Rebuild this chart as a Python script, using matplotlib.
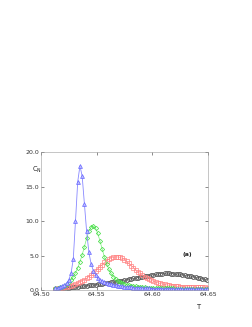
import numpy as np
import matplotlib
matplotlib.use('Agg')
import matplotlib.pyplot as plt

# temperature grid
T = np.round(64.513 + 0.002 * np.arange(69), 3)

blue = [0.3, 0.35, 0.45, 0.55, 0.75, 1.0, 1.5, 2.4, 4.5, 10.0,
        15.7, 18.0, 16.5, 12.5, 8.5, 5.5, 3.8, 2.8, 2.2, 1.8,
        1.5, 1.3, 1.15, 1.0, 0.9, 0.82, 0.75, 0.68, 0.62, 0.57,
        0.52, 0.48, 0.44, 0.41, 0.38, 0.35, 0.33, 0.31, 0.29, 0.27,
        0.26, 0.24, 0.23, 0.22, 0.21, 0.2, 0.19, 0.18, 0.17, 0.165,
        0.16, 0.15, 0.145, 0.14, 0.135, 0.13, 0.125, 0.12, 0.115, 0.11,
        0.108, 0.105, 0.1, 0.098, 0.095, 0.092, 0.09, 0.088, 0.085]

green = [0.25, 0.3, 0.4, 0.5, 0.65, 0.85, 1.1, 1.45, 1.9, 2.5,
         3.2, 4.1, 5.1, 6.3, 7.5, 8.5, 9.1, 9.3, 9.0, 8.2,
         7.1, 5.9, 4.8, 3.8, 3.0, 2.4, 1.95, 1.6, 1.35, 1.15,
         1.0, 0.88, 0.78, 0.7, 0.63, 0.57, 0.52, 0.48, 0.44, 0.41,
         0.38, 0.36, 0.34, 0.32, 0.3, 0.29, 0.28, 0.27, 0.26, 0.25,
         0.24, 0.235, 0.23, 0.225, 0.22, 0.215, 0.21, 0.205, 0.2, 0.2,
         0.195, 0.19, 0.19, 0.185, 0.185, 0.18, 0.18, 0.18, 0.175]

red = [0.2, 0.25, 0.3, 0.35, 0.4, 0.48, 0.56, 0.65, 0.75, 0.86,
       1.0, 1.15, 1.3, 1.5, 1.7, 1.95, 2.2, 2.5, 2.8, 3.1,
       3.4, 3.7, 4.0, 4.25, 4.5, 4.65, 4.75, 4.8, 4.8, 4.75,
       4.6, 4.4, 4.15, 3.85, 3.55, 3.25, 2.95, 2.65, 2.4, 2.15,
       1.95, 1.75, 1.58, 1.42, 1.28, 1.16, 1.05, 0.96, 0.88, 0.81,
       0.75, 0.7, 0.65, 0.61, 0.57, 0.54, 0.51, 0.49, 0.47, 0.45,
       0.43, 0.42, 0.41, 0.4, 0.39, 0.38, 0.37, 0.37, 0.36]

black = [0.15, 0.18, 0.22, 0.26, 0.3, 0.33, 0.36, 0.39, 0.42, 0.45,
         0.48, 0.52, 0.55, 0.59, 0.62, 0.66, 0.7, 0.74, 0.78, 0.82,
         0.86, 0.9, 0.95, 1.0, 1.05, 1.1, 1.15, 1.2, 1.26, 1.32,
         1.38, 1.44, 1.5, 1.56, 1.62, 1.68, 1.74, 1.8, 1.86, 1.92,
         1.98, 2.04, 2.1, 2.16, 2.22, 2.27, 2.32, 2.36, 2.38, 2.4,
         2.4, 2.4, 2.38, 2.36, 2.33, 2.3, 2.26, 2.21, 2.16, 2.1,
         2.04, 1.98, 1.92, 1.86, 1.8, 1.73, 1.66, 1.59, 1.52]

xticks = [64.50, 64.55, 64.60, 64.65]
yticks = [0.0, 5.0, 10.0, 15.0, 20.0]

fig = plt.figure(figsize=(2.53, 3.27), dpi=100)
ax = fig.add_axes([0.162, 0.113, 0.66, 0.422])

ax.plot(T, black, color='#888888', lw=0.5, marker='o', ms=2.8, mfc='none', mec='#555555', mew=0.6)
ax.plot(T, red, color='#ff9999', lw=0.5, marker='s', ms=2.3, mfc='none', mec='#ff8080', mew=0.5)
ax.plot(T, green, color='#77ee77', lw=0.5, marker='D', ms=2.2, mfc='none', mec='#44dd44', mew=0.5)
ax.plot(T, blue, color='#8888ff', lw=0.6, marker='^', ms=2.8, mfc='#bbbbff', mec='#6666ff', mew=0.5)

ax.set_xlim(64.50, 64.65)
ax.set_ylim(0, 20)
ax.set_xticks(xticks)
ax.set_xticklabels(['%.2f' % v for v in xticks])
ax.set_yticks(yticks)
ax.set_yticklabels(['%.1f' % v for v in yticks])
ax.tick_params(direction='in', length=2, width=0.4, labelsize=4.5, colors='#333333',
               top=True, right=True, pad=1.5)
for s in ax.spines.values():
    s.set_linewidth(0.4)
    s.set_color('#999999')

fig.text(0.128, 0.475, r'C$_{\rm N}$', fontsize=4.8, color='#222222')
fig.text(0.78, 0.055, 'T', fontsize=4.8, color='#222222')
ax.text(64.627, 5.0, '(a)', fontsize=4.5, fontweight='bold', color='#222222')

fig.savefig('out.png', dpi=100)
